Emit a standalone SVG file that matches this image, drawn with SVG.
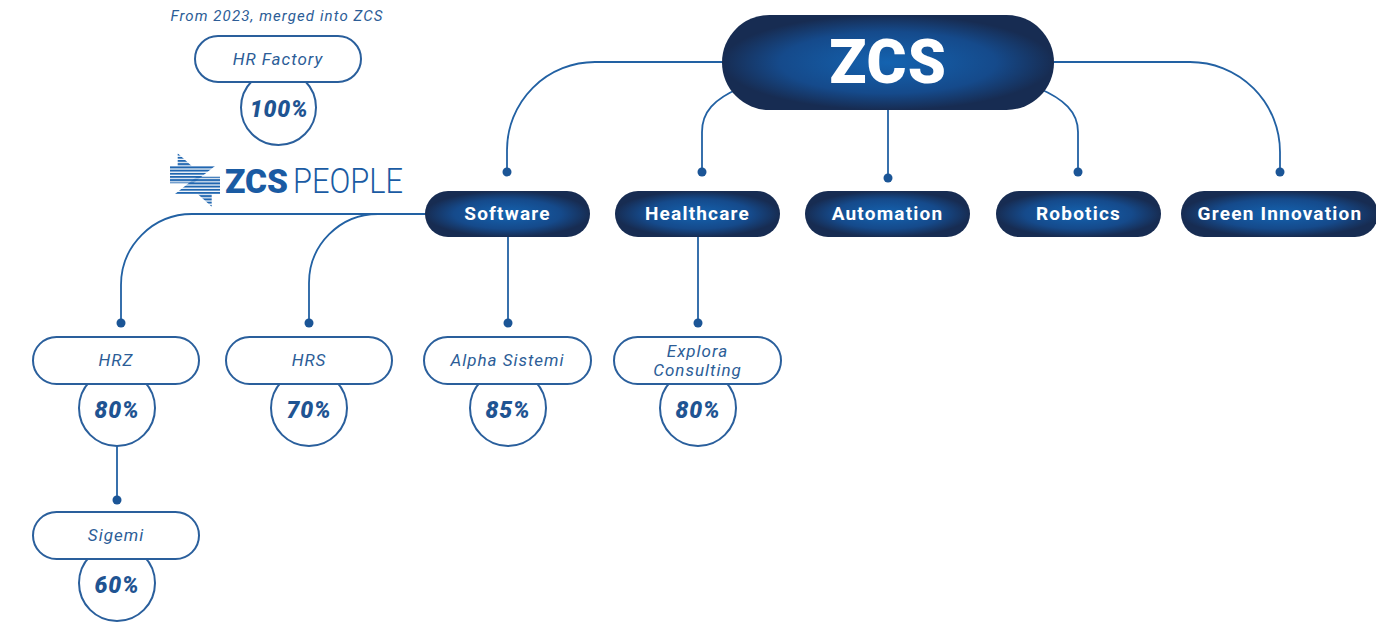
<svg xmlns="http://www.w3.org/2000/svg" width="1376" height="622" viewBox="0 0 1376 622">
<defs>
<radialGradient id="g" cx="0.5" cy="0.5" r="0.5">
<stop offset="0" stop-color="#1463b0"/>
<stop offset="0.65" stop-color="#154a8b"/>
<stop offset="1" stop-color="#172c52"/>
</radialGradient>
<pattern id="stripes" width="10" height="3.2" patternUnits="userSpaceOnUse">
<rect width="10" height="2" fill="#2066b0"/>
</pattern>
<style>
.conn{fill:none;stroke:#2261a3;stroke-width:1.8}
.dot{fill:#1b5596}
.dark{fill:url(#g)}
.dt{font-family:Roboto,"Liberation Sans",sans-serif;font-weight:700;fill:#fff;font-size:19px;letter-spacing:1.2px;text-anchor:middle}
.lp{fill:#fff;stroke:#2a5f9c;stroke-width:2}
.lc{fill:#fff;stroke:#2a5f9c;stroke-width:2}
.lt{font-family:Roboto,"Liberation Sans",sans-serif;font-style:italic;fill:#2c5d97;font-size:17px;letter-spacing:1px;text-anchor:middle}
.pt{font-family:Roboto,"Liberation Sans",sans-serif;font-style:italic;font-weight:900;fill:#1f5492;font-size:23px;letter-spacing:0.8px;text-anchor:middle}
</style>
</defs>
<rect width="1376" height="622" fill="#fff"/>
<g id="connectors">
<path class="conn" d="M722,62 H595 A88,88 0 0 0 507,150 V172"/>
<path class="conn" d="M740,88 C714,99 702,112 702,132 V172"/>
<path class="conn" d="M888,105 V178"/>
<path class="conn" d="M1038,88 C1064,99 1078,112 1078,132 V172"/>
<path class="conn" d="M1054,62 H1190 A90,90 0 0 1 1280,152 V172"/>
<path class="conn" d="M430,214 H192 A71,71 0 0 0 121,285 V323"/>
<path class="conn" d="M430,214 H378 A69,69 0 0 0 309,283 V323"/>
<path class="conn" d="M508,237 V323"/>
<path class="conn" d="M698,237 V323"/>
<path class="conn" d="M117,446 V500"/>
<circle class="dot" cx="507" cy="172" r="4.5"/>
<circle class="dot" cx="702" cy="172" r="4.5"/>
<circle class="dot" cx="888" cy="178" r="4.5"/>
<circle class="dot" cx="1078" cy="172" r="4.5"/>
<circle class="dot" cx="1280" cy="172" r="4.5"/>
<circle class="dot" cx="121" cy="323" r="4.5"/>
<circle class="dot" cx="309" cy="323" r="4.5"/>
<circle class="dot" cx="508" cy="323" r="4.5"/>
<circle class="dot" cx="698" cy="323" r="4.5"/>
<circle class="dot" cx="117" cy="500" r="4.5"/>
</g>
<g id="zcs">
<rect class="dark" x="722" y="15" width="332" height="95" rx="47.5"/>
<text x="888" y="83" font-family="Roboto,'Liberation Sans',sans-serif" font-weight="900" font-size="61" fill="#fff" text-anchor="middle" letter-spacing="1">ZCS</text>
</g>
<g id="software">
<rect class="dark" x="425" y="191" width="165" height="46" rx="23"/>
<text class="dt" x="507.5" y="220">Software</text>
</g>
<g id="healthcare">
<rect class="dark" x="615" y="191" width="165" height="46" rx="23"/>
<text class="dt" x="697.5" y="220">Healthcare</text>
</g>
<g id="automation">
<rect class="dark" x="805" y="191" width="165" height="46" rx="23"/>
<text class="dt" x="887.5" y="220">Automation</text>
</g>
<g id="robotics">
<rect class="dark" x="996" y="191" width="165" height="46" rx="23"/>
<text class="dt" x="1078.5" y="220">Robotics</text>
</g>
<g id="green-innovation">
<rect class="dark" x="1181" y="191" width="197" height="46" rx="23"/>
<text class="dt" x="1280" y="220">Green Innovation</text>
</g>
<g id="hr-factory">
<text x="277" y="21" font-family="Roboto,'Liberation Sans',sans-serif" font-style="italic" font-size="15" fill="#2c5d97" text-anchor="middle" letter-spacing="1.1">From 2023, merged into ZCS</text>
<circle class="lc" cx="278.5" cy="107.5" r="37.5"/>
<rect class="lp" x="195" y="36" width="166" height="46" rx="23"/>
<text class="lt" x="278" y="65">HR Factory</text>
<text class="pt" x="279" y="117">100%</text>
</g>
<g id="zcs-people-logo">
<polygon fill="url(#stripes)" points="177.7,153.3 191.7,166 215,166 193.3,183.3 170,183.3 170,166 177.7,166"/>
<polygon fill="url(#stripes)" points="220,176.7 220,194 211.7,194 211.7,206.7 197.7,194 175,194 196.7,176.7"/>
<text x="225" y="193" font-family="Roboto,'Liberation Sans',sans-serif" font-weight="900" font-size="34" fill="#1a5ba3" textLength="63" lengthAdjust="spacingAndGlyphs">ZCS</text>
<text x="293" y="193" font-family="Roboto,'Liberation Sans',sans-serif" font-weight="300" font-size="35" fill="#1a5ba3" textLength="110" lengthAdjust="spacingAndGlyphs">PEOPLE</text>
</g>
<g id="hrz">
<circle class="lc" cx="117" cy="408" r="38"/>
<rect class="lp" x="33" y="337" width="166" height="47" rx="23.5"/>
<text class="lt" x="116" y="366">HRZ</text>
<text class="pt" x="117" y="418">80%</text>
</g>
<g id="hrs">
<circle class="lc" cx="309" cy="408" r="38"/>
<rect class="lp" x="226" y="337" width="166" height="47" rx="23.5"/>
<text class="lt" x="309" y="366">HRS</text>
<text class="pt" x="309" y="418">70%</text>
</g>
<g id="alpha-sistemi">
<circle class="lc" cx="508" cy="408" r="38"/>
<rect class="lp" x="424" y="337" width="167" height="47" rx="23.5"/>
<text class="lt" x="507.5" y="366">Alpha Sistemi</text>
<text class="pt" x="508" y="418">85%</text>
</g>
<g id="explora-consulting">
<circle class="lc" cx="698" cy="408" r="38"/>
<rect class="lp" x="614" y="337" width="167" height="47" rx="23.5"/>
<text class="lt" x="697.5" y="357">Explora</text>
<text class="lt" x="697.5" y="376">Consulting</text>
<text class="pt" x="698" y="418">80%</text>
</g>
<g id="sigemi">
<circle class="lc" cx="117" cy="583" r="38"/>
<rect class="lp" x="33" y="512" width="166" height="47" rx="23.5"/>
<text class="lt" x="116" y="541">Sigemi</text>
<text class="pt" x="117" y="593">60%</text>
</g>
</svg>
